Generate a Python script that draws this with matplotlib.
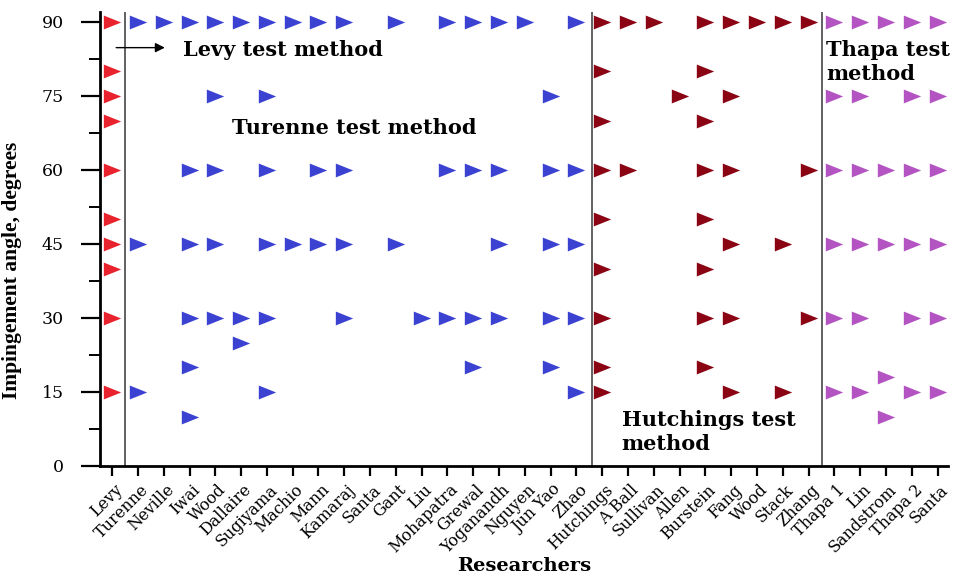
"""Impingement angles used by researchers, grouped by test method."""

import matplotlib

matplotlib.use("Agg")
import matplotlib.pyplot as plt
import matplotlib.transforms as mtransforms
from matplotlib.ticker import MultipleLocator

# ---- data -------------------------------------------------------------
levy_names = ["Levy"]
levy_angles = [[90, 80, 75, 70, 60, 50, 45, 40, 30, 15]]

turenne_names = ["Turenne", "Neville", "Iwai", "Wood", "Dallaire", "Sugiyama",
                 "Machio", "Mann", "Kamaraj", "Santa", "Gant", "Liu",
                 "Mohapatra", "Grewal", "Yoganandh", "Nguyen", "Jun Yao", "Zhao"]
turenne_angles = [
    [90, 45, 15],
    [90],
    [90, 60, 45, 30, 20, 10],
    [90, 75, 60, 45, 30],
    [90, 30, 25],
    [90, 75, 60, 45, 30, 15],
    [90, 45],
    [90, 60, 45],
    [90, 60, 45, 30],
    [],
    [90, 45],
    [30],
    [90, 60, 30],
    [90, 60, 30, 20],
    [90, 60, 45, 30],
    [90],
    [75, 60, 45, 30, 20],
    [90, 60, 45, 30, 15],
]

hutchings_names = ["Hutchings", "A Ball", "Sullivan", "Allen", "Burstein",
                   "Fang", "Wood", "Stack", "Zhang"]
hutchings_angles = [
    [90, 80, 70, 60, 50, 40, 30, 20, 15],
    [90, 60],
    [90],
    [75],
    [90, 80, 70, 60, 50, 40, 30, 20],
    [90, 75, 60, 45, 30, 15],
    [90],
    [90, 45, 15],
    [90, 60, 30],
]

thapa_names = ["Thapa 1", "Lin", "Sandstrom", "Thapa 2", "Santa"]
thapa_angles = [
    [90, 75, 60, 45, 30, 15],
    [90, 75, 60, 45, 30, 15],
    [90, 60, 45, 18, 10],
    [90, 75, 60, 45, 30, 15],
    [90, 75, 60, 45, 30, 15],
]

groups = [
    (levy_names, levy_angles, "#e8232d"),
    (turenne_names, turenne_angles, "#3b42d2"),
    (hutchings_names, hutchings_angles, "#8a0414"),
    (thapa_names, thapa_angles, "#b354c2"),
]

# wider-than-tall right-pointing triangle
tri = [(-1, -0.8), (1, 0), (-1, 0.8), (-1, -0.8)]

fig = plt.figure(figsize=(9.54, 5.77), dpi=100)
ax = fig.add_axes([0.1048, 0.1924, 0.8889, 0.7866])

names = []
for grp_names, grp_angles, color in groups:
    for name, angles in zip(grp_names, grp_angles):
        pos = len(names)
        names.append(name)
        if angles:
            ax.plot([pos] * len(angles), angles, linestyle="none", marker=tri,
                    markersize=12.5, color=color, markeredgewidth=0)

# separators between test methods
boundaries = [0.5, 18.6, 27.5]
for b in boundaries:
    ax.axvline(b, color="#555555", lw=1.3, zorder=1)

ax.set_xlim(-0.47, 32.4)
ax.set_ylim(0, 92)

for side in ("top", "right"):
    ax.spines[side].set_visible(False)
for side in ("left", "bottom"):
    ax.spines[side].set_linewidth(2)

ax.yaxis.set_major_locator(MultipleLocator(15))
ax.yaxis.set_minor_locator(MultipleLocator(7.5))
ax.tick_params(axis="y", which="major", direction="out", length=14, width=1.6,
               pad=12, labelsize=12.5)
ax.tick_params(axis="y", which="minor", direction="out", length=8, width=1.4)
ax.tick_params(axis="x", direction="out", length=7, width=1.6, pad=4,
               labelsize=11.5)
for lab in ax.get_yticklabels():
    lab.set_family("DejaVu Serif")

ax.set_xticks(range(len(names)))
ax.set_xticklabels(names, rotation=45, ha="right", va="center",
                   rotation_mode="anchor", family="DejaVu Serif")
shift = mtransforms.ScaledTranslation(8 / 100, -6 / 100, fig.dpi_scale_trans)
for lab in ax.get_xticklabels():
    lab.set_transform(lab.get_transform() + shift)

ax.set_ylabel("Impingement angle, degrees", family="Liberation Serif",
              fontweight="bold", fontsize=15.5)
ax.yaxis.set_label_coords(-0.092, 0.43)
ax.set_xlabel("Researchers", family="DejaVu Serif", fontweight="bold",
              fontsize=14)
ax.xaxis.set_label_coords(0.5, -0.2)

lbl = dict(family="DejaVu Serif", fontweight="bold", fontsize=15)
ax.text(2.75, 84.3, "Levy test method", va="center", ha="left", **lbl)
ax.text(4.65, 68.5, "Turenne test method", va="center", ha="left", **lbl)
ax.text(19.75, 6.9, "Hutchings test\nmethod", va="center", ha="left", **lbl)
ax.text(27.68, 81.9, "Thapa test\nmethod", va="center", ha="left", **lbl)
ax.annotate("", xy=(2.15, 84.8), xytext=(0.05, 84.8),
            arrowprops=dict(arrowstyle="-|>", color="black", lw=1,
                            mutation_scale=14))

fig.savefig("out.png", dpi=100)
